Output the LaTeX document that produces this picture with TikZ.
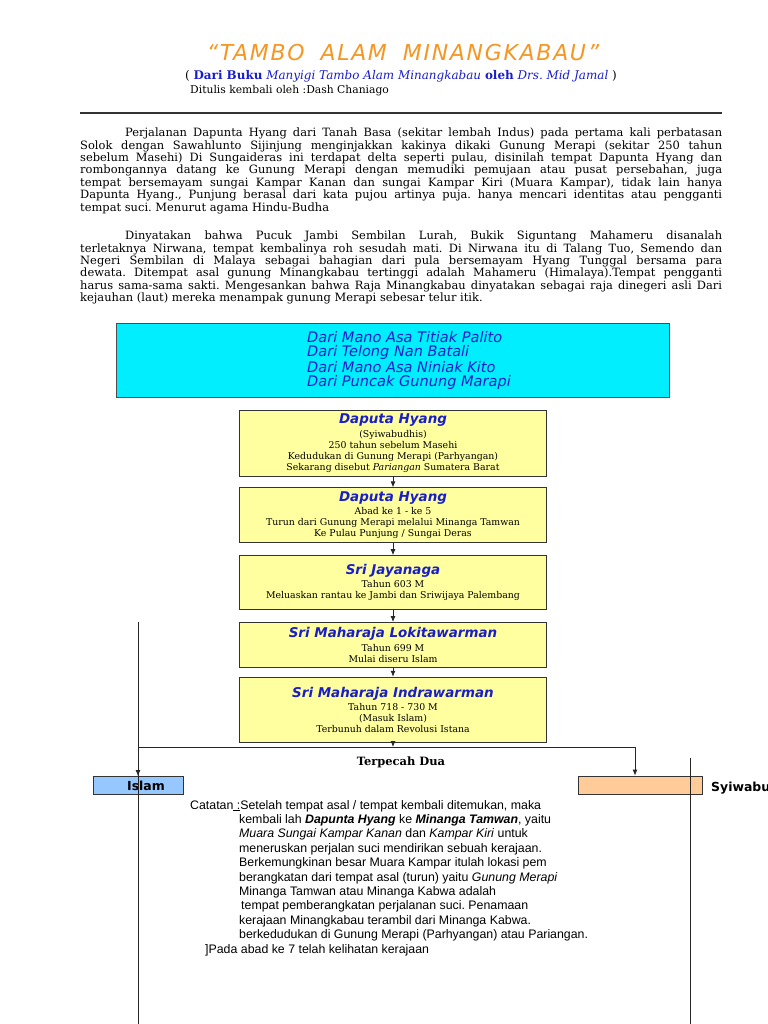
\documentclass[tikz,border=0pt]{standalone}
\usepackage{fontspec}
\setmainfont{DejaVu Serif}
\setsansfont{DejaVu Sans}
\newfontfamily\arialfont{Liberation Sans}
\usetikzlibrary{positioning, arrows.meta}
\frenchspacing

\definecolor{oranye}{RGB}{245,150,35}
\definecolor{biru}{RGB}{25,30,200}
\definecolor{kuning}{RGB}{255,255,160}
\definecolor{sian}{RGB}{0,238,255}
\definecolor{birumuda}{RGB}{150,200,255}
\definecolor{jingga}{RGB}{255,204,153}

\newcommand{\nama}[1]{{\sffamily\bfseries\itshape\fontsize{13.5}{14}\selectfont\textcolor{biru}{#1}}}

\tikzset{
  paragraf/.style={anchor=north west, inner sep=0pt, text width=642bp, align=justify,
    font=\fontsize{11.5}{12.4}\selectfont},
  kotak/.style={draw=black!80, fill=kuning, line width=0.8bp, minimum width=307bp,
    inner sep=0pt, align=center, font=\fontsize{9.4}{11}\selectfont},
  cabang/.style={draw=black!80, line width=0.8bp, minimum height=18bp, inner sep=0pt,
    font=\sffamily\bfseries\fontsize{12.5}{13}\selectfont},
  garis/.style={line width=0.8bp, black!85},
}

\begin{document}
\begin{tikzpicture}[x=1bp,y=-1bp,>={Latex[length=6bp,width=5bp]}]
\useasboundingbox (0,0) rectangle (768,1024);

% judul
\node[font=\sffamily\itshape\fontsize{22}{25}\selectfont\addfontfeatures{LetterSpace=8}, text=oranye] (judul) at (403,53)
  {“TAMBO\hspace{16bp}ALAM\hspace{16bp}MINANGKABAU”};
\node[font=\fontsize{12}{14}\selectfont] (sumber) at (401,76)
  {( \textcolor{biru}{\textbf{Dari Buku} \textit{Manyigi Tambo Alam Minangkabau} \textbf{oleh} \textit{Drs. Mid Jamal}} )};
\node[anchor=west, inner sep=0pt, font=\fontsize{10.8}{12}\selectfont] (penulis) at (190,90.5)
  {Ditulis kembali oleh :Dash Chaniago};
\draw[line width=1.3bp, black!80] (80,113) -- (722,113);

% paragraf
\node[paragraf] (par1) at (80,128) {\hspace*{45bp}Perjalanan Dapunta Hyang dari Tanah Basa (sekitar lembah Indus) pada pertama kali perbatasan\linebreak
Solok dengan Sawahlunto Sijinjung menginjakkan kakinya dikaki Gunung Merapi (sekitar 250 tahun\linebreak
sebelum Masehi) Di Sungaideras ini terdapat delta seperti pulau, disinilah tempat Dapunta Hyang dan\linebreak
rombongannya datang ke Gunung Merapi dengan memudiki pemujaan atau pusat persebahan, juga\linebreak
tempat bersemayam sungai Kampar Kanan dan sungai Kampar Kiri (Muara Kampar), tidak lain hanya\linebreak
Dapunta Hyang., Punjung berasal dari kata pujou artinya puja. hanya mencari identitas atau pengganti\linebreak
tempat suci. Menurut agama Hindu-Budha};
\node[paragraf] (par2) at (80,231) {\hspace*{45bp}Dinyatakan bahwa Pucuk Jambi Sembilan Lurah, Bukik Siguntang Mahameru disanalah\linebreak
terletaknya Nirwana, tempat kembalinya roh sesudah mati. Di Nirwana itu di Talang Tuo, Semendo dan\linebreak
Negeri Sembilan di Malaya sebagai bahagian dari pula bersemayam Hyang Tunggal bersama para\linebreak
dewata. Ditempat asal gunung Minangkabau tertinggi adalah Mahameru (Himalaya).Tempat pengganti\linebreak
harus sama-sama sakti. Mengesankan bahwa Raja Minangkabau dinyatakan sebagai raja dinegeri asli Dari\linebreak
kejauhan (laut) mereka menampak gunung Merapi sebesar telur itik.};

% pantun
\node[draw=black!70, fill=sian, line width=0.8bp, minimum width=553bp, minimum height=74bp] (sian) at (392.5,360) {};
\node[anchor=west, align=left, inner sep=0pt, text=biru,
  font=\sffamily\itshape\fontsize{14.6}{14.1}\selectfont] (pantun) at (307,360.5)
  {Dari Mano Asa Titiak Palito\\ Dari Telong Nan Batali\\ Dari Mano Asa Niniak Kito\\ Dari Puncak Gunung Marapi};

% silsilah raja
\node[kotak, minimum height=66bp] (raja1) at (393,443)
  {\nama{Daputa Hyang}\\[2.5bp] (Syiwabudhis)\\ 250 tahun sebelum Masehi\\ Kedudukan di Gunung Merapi (Parhyangan)\\ Sekarang disebut \textit{Pariangan} Sumatera Barat};
\node[kotak, minimum height=55bp, below=11bp of raja1] (raja2)
  {\nama{Daputa Hyang}\\[2.5bp] Abad ke 1 - ke 5\\ Turun dari Gunung Merapi melalui Minanga Tamwan\\ Ke Pulau Punjung / Sungai Deras};
\node[kotak, minimum height=54bp, below=12bp of raja2] (raja3)
  {\nama{Sri Jayanaga}\\[2.5bp] Tahun 603 M\\ Meluaskan rantau ke Jambi dan Sriwijaya Palembang};
\node[kotak, minimum height=45bp, below=12bp of raja3] (raja4)
  {\nama{Sri Maharaja Lokitawarman}\\[2.5bp] Tahun 699 M\\ Mulai diseru Islam};
\node[kotak, minimum height=65bp, below=9bp of raja4] (raja5)
  {\nama{Sri Maharaja Indrawarman}\\[2.5bp] Tahun 718 - 730 M\\ (Masuk Islam)\\ Terbunuh dalam Revolusi Istana};

\foreach \a/\b in {raja1/raja2,raja2/raja3,raja3/raja4,raja4/raja5}
  \draw[garis,->] (\a) -- (\b);

% terpecah dua
\coordinate (pisah) at (raja5.south |- 0,747);
\coordinate (kiri) at (138,747);
\coordinate (kanan) at (635,747);
\draw[garis,->] (raja5) -- (pisah);
\draw[garis] (kiri) -- (kanan);
\node[font=\bfseries\fontsize{11.5}{13}\selectfont] (pecah) at (401,762) {Terpecah Dua};

\node[cabang, fill=birumuda, minimum width=90bp] (islam) at (138,785.5) {\hspace*{16bp}Islam};
\node[cabang, fill=jingga, minimum width=124bp] (syiwa) at (640,785) {};
\node[anchor=west, inner sep=0pt, font=\sffamily\bfseries\fontsize{12.5}{13}\selectfont] (syiwateks) at (711,788) {Syiwabudhis};
\draw[garis,->] (kiri) -- (islam);
\draw[garis,->] (kanan) -- (syiwa.north -| kanan);

\coordinate (kiriatas) at (138,622);
\coordinate (kiribawah) at (138,1024);
\coordinate (kananatas) at (690,758);
\coordinate (kananbawah) at (690,1024);
\draw[garis] (kiriatas) -- (kiribawah);
\draw[garis] (kananatas) -- (kananbawah);

% catatan
\node[anchor=north west, align=left, inner sep=0pt,
  font=\arialfont\fontsize{12.4}{14.45}\selectfont] (catatan) at (190,800)
  {Catatan\underline{\ :}Setelah tempat asal / tempat kembali ditemukan, maka\\
  \hspace*{49bp}kembali lah \textbf{\textit{Dapunta Hyang}} ke \textbf{\textit{Minanga Tamwan}}, yaitu\\
  \hspace*{49bp}\textit{Muara Sungai Kampar Kanan} dan \textit{Kampar Kiri} untuk\\
  \hspace*{49bp}meneruskan perjalan suci mendirikan sebuah kerajaan.\\
  \hspace*{49bp}Berkemungkinan besar Muara Kampar itulah lokasi pem\\
  \hspace*{49bp}berangkatan dari tempat asal (turun) yaitu \textit{Gunung Merapi}\\
  \hspace*{49bp}Minanga Tamwan atau Minanga Kabwa adalah\\
  \hspace*{51bp}tempat pemberangkatan perjalanan suci. Penamaan\\
  \hspace*{49bp}kerajaan Minangkabau terambil dari Minanga Kabwa.\\
  \hspace*{49bp}berkedudukan di Gunung Merapi (Parhyangan) atau Pariangan.\\
  \hspace*{15bp}]Pada abad ke 7 telah kelihatan kerajaan};
\end{tikzpicture}
\end{document}
